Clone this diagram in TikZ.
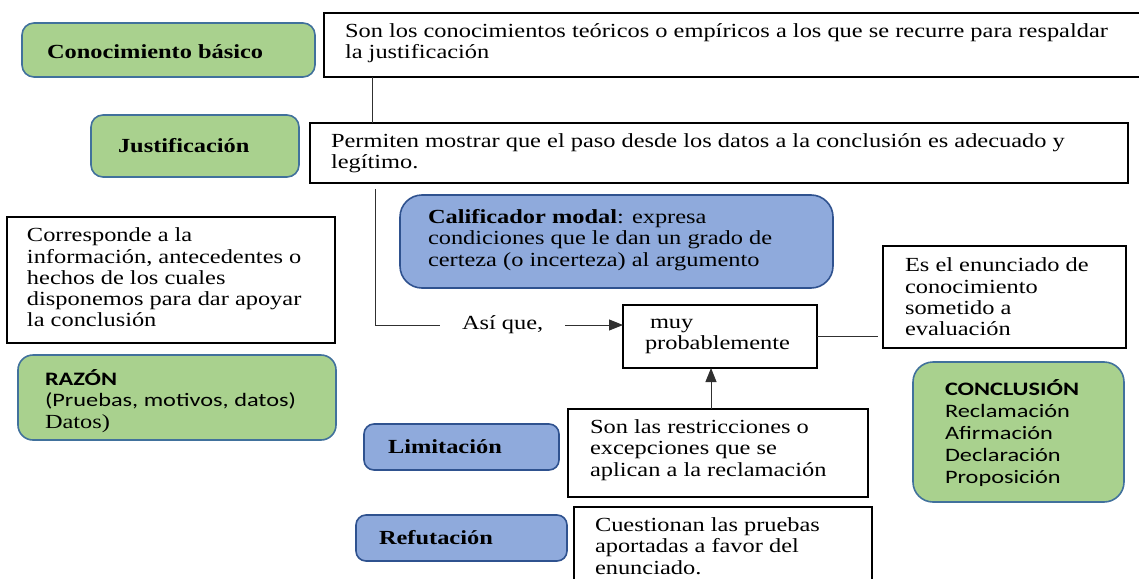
\documentclass[tikz,border=0pt]{standalone}
\usepackage{fontspec}
\setmainfont{Liberation Serif}[FakeStretch=1.22]
\newfontfamily\calib{Carlito}[FakeStretch=1.28]
\usetikzlibrary{arrows.meta}

\definecolor{gfill}{HTML}{A9D18E}
\definecolor{gline}{HTML}{41719C}
\definecolor{bfill}{HTML}{8FAADC}
\definecolor{bline}{HTML}{2F528F}
\definecolor{wire}{HTML}{303030}

\tikzset{
  every node/.style={inner sep=0pt, outer sep=0pt},
  panel/.style={anchor=north west, draw=black, line width=1.6pt, fill=white},
  greenbox/.style={anchor=north west, draw=gline, line width=1.6pt, fill=gfill, rounded corners=#1},
  bluebox/.style={anchor=north west, draw=bline, line width=1.6pt, fill=bfill, rounded corners=#1},
  txt/.style={anchor=west, align=left, font=\fontsize{20}{21.3}\selectfont},
  sanstxt/.style={anchor=west, align=left, font=\fontsize{19}{21.8}\selectfont},
  wireline/.style={draw=wire, line width=1pt},
  arr/.style={wireline, -{Triangle[length=14pt,width=11pt]}},
}

\begin{document}
\begin{tikzpicture}[x=1pt, y=-1pt]
\useasboundingbox (0,0) rectangle (1139,578);
\clip (0,0) rectangle (1139,578);

% --- backing knowledge row
\node[greenbox=12pt, minimum width=293pt, minimum height=54pt] (kb) at (22,23) {};
\node[txt, yshift=-2pt] (kbT) at ([xshift=25pt]kb.west) {\textbf{Conocimiento básico}};
\node[panel, minimum width=830pt, minimum height=64pt] (kbtxt) at (324,13) {};
\node[txt, yshift=2pt] (kbtxtT) at ([xshift=21pt]kbtxt.west)
  {Son los conocimientos teóricos o empíricos a los que se recurre para respaldar\\la justificación};

% --- warrant row
\node[greenbox=12pt, minimum width=208pt, minimum height=62pt] (just) at (91,115) {};
\node[txt] (justT) at ([xshift=27pt]just.west) {\textbf{Justificación}};
\node[panel, minimum width=818pt, minimum height=60pt] (perm) at (310,123) {};
\node[txt] (permT) at ([xshift=21pt]perm.west)
  {Permiten mostrar que el paso desde los datos a la conclusión es adecuado y\\legítimo.};

% --- modal qualifier
\node[bluebox=22pt, minimum width=433pt, minimum height=93pt] (cal) at (400,195) {};
\node[txt, yshift=1.5pt] (calT) at ([xshift=28pt]cal.west)
  {\textbf{Calificador modal}: expresa\\condiciones que le dan un grado de\\certeza (o incerteza) al argumento};

% --- data
\node[panel, minimum width=328pt, minimum height=126pt] (dat) at (7,217) {};
\node[txt, yshift=2.5pt] (datT) at ([xshift=20pt]dat.west)
  {Corresponde a la\\información, antecedentes o\\hechos de los cuales\\disponemos para dar apoyar\\la conclusión};
\node[greenbox=15pt, minimum width=318pt, minimum height=85pt] (raz) at (18,355) {};
\node[sanstxt, yshift=-3.5pt] (razT) at ([xshift=27pt]raz.west)
  {{\calib\bfseries RAZÓN}\\{\calib (Pruebas, motivos, datos)}\\{\fontsize{20}{21.3}\selectfont Datos)}};

% --- inference step
\node[txt, inner xsep=22pt] (asi) at (440,325) {Así que,};
\node[panel, minimum width=194pt, minimum height=63pt] (qual) at (623,305) {};
\node[txt] (qualT) at ([xshift=22pt]qual.west) {\hspace*{5pt}muy\\probablemente};

% --- claim
\node[panel, minimum width=243pt, minimum height=102pt] (cl) at (883,246) {};
\node[txt] (clT) at ([xshift=22pt]cl.west) {Es el enunciado de\\conocimiento\\sometido a\\evaluación};
\node[greenbox=20pt, minimum width=211pt, minimum height=140pt] (con) at (913,362) {};
\node[sanstxt, yshift=-1pt] (conT) at ([xshift=32pt]con.west)
  {\calib\textbf{CONCLUSIÓN}\\\calib Reclamación\\\calib Afirmación\\\calib Declaración\\\calib Proposición};

% --- limitation
\node[bluebox=10pt, minimum width=195pt, minimum height=46pt] (lim) at (364,424) {};
\node[txt] (limT) at ([xshift=24pt]lim.west) {\textbf{Limitación}};
\node[panel, minimum width=300pt, minimum height=88pt] (res) at (568,409) {};
\node[txt, yshift=3pt] (resT) at ([xshift=22pt]res.west)
  {Son las restricciones o\\excepciones que se\\aplican a la reclamación};

% --- rebuttal
\node[bluebox=10pt, minimum width=211pt, minimum height=46pt] (ref) at (356,515) {};
\node[txt] (refT) at ([xshift=23pt]ref.west) {\textbf{Refutación}};
\node[panel, line width=1.9pt, minimum width=298pt, minimum height=80pt] (reb) at (574,507) {};
\node[txt, yshift=1pt] (rebT) at ([xshift=21pt]reb.west)
  {Cuestionan las pruebas\\aportadas a favor del\\enunciado.};

% --- connectors
\coordinate (kbdrop) at ([xshift=48pt]kbtxt.south west);
\draw[wireline] (kbdrop) -- (kbdrop |- perm.north);
\coordinate (permdrop) at ([xshift=65pt,yshift=-6pt]perm.south west);
\draw[wireline] (permdrop) |- (asi.west);
\draw[arr] (asi.east) -- (asi.east -| qual.west);
\draw[wireline] (qual.east) -- ([xshift=-5pt]cl.west |- qual.east);
\coordinate (qualtip) at ([xshift=-9pt]qual.south);
\draw[arr] (qualtip |- res.north) -- (qualtip);
\end{tikzpicture}
\end{document}
